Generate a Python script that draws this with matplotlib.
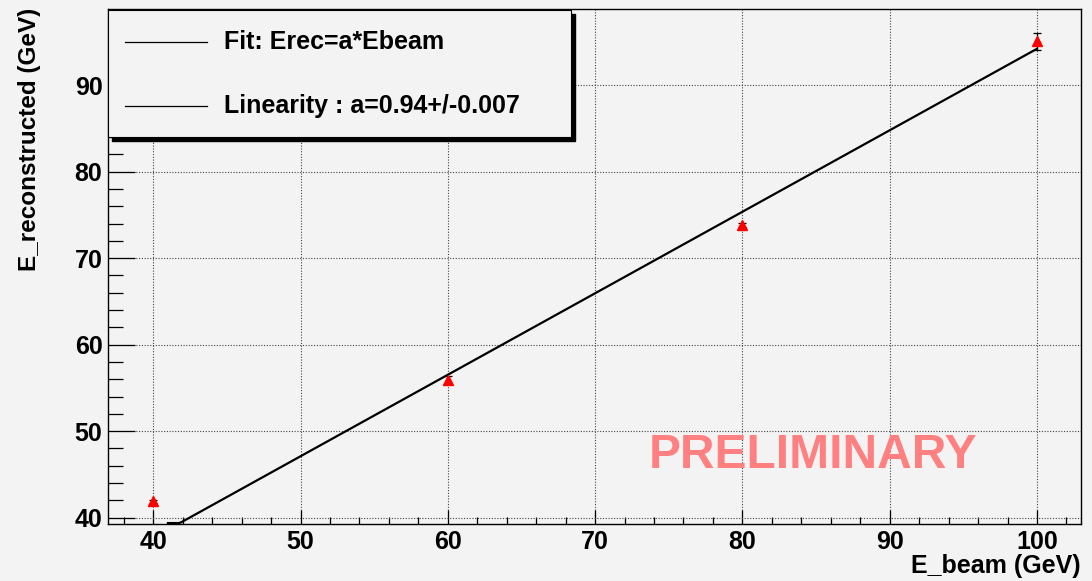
import numpy as np
import matplotlib
matplotlib.use("Agg")
import matplotlib.pyplot as plt
from matplotlib.patches import Rectangle
from matplotlib.lines import Line2D
from matplotlib.ticker import MultipleLocator

# === Data ===
ebeam = [40, 60, 80, 100]
erec = [41.9, 55.9, 73.85, 95.05]
erec_err = [0.2, 0.5, 0.2, 0.96]
fit_a = 0.942
fit_xmin, fit_xmax = 41, 100

legend_labels = ["Fit: Erec=a*Ebeam", "Linearity : a=0.94+/-0.007"]
xlabel = "E_beam (GeV)"
ylabel = "E_reconstructed (GeV)"
stamp = "PRELIMINARY"

# === Style ===
W, H = 1092, 581
BG = "#f3f3f3"
FONT = "Liberation Sans"
FS = 18

plt.rcParams['font.family'] = [FONT, 'DejaVu Sans']
plt.rcParams['font.weight'] = 'bold'

fig = plt.figure(figsize=(W / 100, H / 100), dpi=100, facecolor=BG)

def px(x, y):
    # pixel (from top-left) -> figure fraction
    return x / W, 1 - y / H

ax_l, ax_r, ax_t, ax_b = 108, 1081, 9, 523.5
ax = fig.add_axes([ax_l / W, 1 - ax_b / H, (ax_r - ax_l) / W, (ax_b - ax_t) / H])
ax.set_facecolor(BG)
ylo, yhi = 39.33, 98.8
ax.set_xlim(36.93, 102.99)
ax.set_ylim(ylo, yhi)

# grid
ax.grid(True, which='major', color='#444444', linestyle=(0, (1, 1.5)), linewidth=0.8)
ax.set_axisbelow(True)

# ticks, ROOT style (inside)
ax.xaxis.set_major_locator(MultipleLocator(10))
ax.xaxis.set_minor_locator(MultipleLocator(2))
ax.yaxis.set_major_locator(MultipleLocator(10))
ax.yaxis.set_minor_locator(MultipleLocator(2))
ax.tick_params(axis='x', which='major', direction='in', length=10, width=0.9, pad=4.5, labelsize=FS)
ax.tick_params(axis='x', which='minor', direction='in', length=5, width=0.9)
ax.tick_params(axis='y', which='major', direction='in', length=19.5, width=0.9, pad=4, labelsize=FS)
ax.tick_params(axis='y', which='minor', direction='in', length=10.8, width=0.9)
for lab in ax.get_xticklabels() + ax.get_yticklabels():
    lab.set_fontweight('bold')
for sp in ax.spines.values():
    sp.set_linewidth(1.0)
    sp.set_color('black')

# fit line (clamped at the frame bottom like ROOT does)
xf = np.linspace(fit_xmin, fit_xmax, 400)
yf = np.maximum(fit_a * xf, ylo + 0.05)
ax.plot(xf, yf, color='black', linewidth=1.6, zorder=3)

# data points
ax.errorbar(ebeam, erec, yerr=erec_err, fmt='^', color='red', markersize=6.5,
            ecolor='black', elinewidth=0.9, capsize=3, capthick=0.9, zorder=4)

# preliminary stamp
ax.text(813 / W, 1 - 455 / H, stamp, transform=fig.transFigure, ha='center', va='center',
        fontsize=34.5, fontweight='bold', color='#ff8080', zorder=2)

# axis titles
fig.text(ax_r / W, 1 - 566 / H, xlabel, ha='right', va='center', fontsize=FS, fontweight='bold')
fig.text(30 / W, 1 - 8 / H, ylabel, ha='center', va='top', rotation=90, fontsize=17.5, fontweight='bold')

# legend box with shadow
lx0, ly0, lx1, ly1 = 108, 10, 571, 137
sh = 4
x0, y0 = px(lx0 + sh, ly1 + sh)
fig.patches.append(Rectangle((x0, y0), (lx1 - lx0) / W, (ly1 - ly0) / H,
                             transform=fig.transFigure, facecolor='black', edgecolor='black', zorder=5))
x0, y0 = px(lx0, ly1)
fig.patches.append(Rectangle((x0, y0), (lx1 - lx0) / W, (ly1 - ly0) / H,
                             transform=fig.transFigure, facecolor=BG, edgecolor='black',
                             linewidth=0.8, zorder=6))
for i, lab in enumerate(legend_labels):
    yy = 42 + i * 64
    fig.lines.append(Line2D([125 / W, 207 / W], [1 - yy / H, 1 - yy / H], transform=fig.transFigure,
                            color='black', linewidth=0.9, zorder=7))
    fig.text(224 / W, 1 - yy / H, lab, ha='left', va='center', fontsize=FS, fontweight='bold', zorder=7)

fig.savefig("out.png", dpi=100, facecolor=BG)
